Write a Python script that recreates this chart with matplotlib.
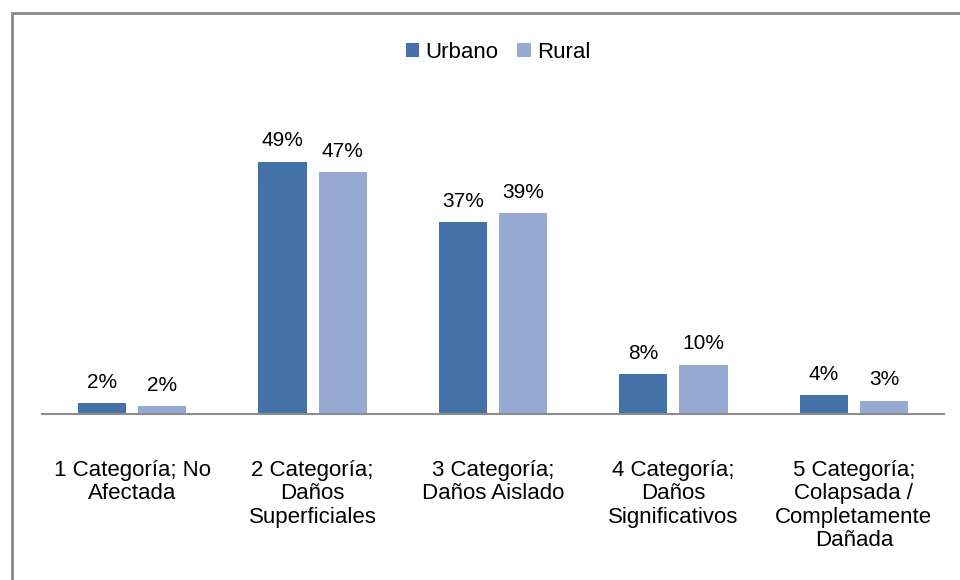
import matplotlib.pyplot as plt
import numpy as np
from matplotlib.patches import Rectangle

categorias = ["1 Categoría; No\nAfectada", "2 Categoría;\nDaños\nSuperficiales",
              "3 Categoría;\nDaños Aislado", "4 Categoría;\nDaños\nSignificativos",
              "5 Categoría;\nColapsada /\nCompletamente\nDañada"]
urbano = [2.1, 49.0, 37.3, 7.8, 3.6]
rural = [1.6, 47.0, 39.0, 9.6, 2.6]

plt.rcParams['font.family'] = ['Liberation Sans', 'DejaVu Sans']

c_urb = '#4472a8'
c_rur = '#95a9d1'

fig = plt.figure(figsize=(9.6, 5.8), dpi=100)
ax = fig.add_axes([0.04375, 0.2862, 0.9396, 0.533])

x = np.arange(len(categorias))
w = 0.267
off = 0.167
b1 = ax.bar(x - off, urbano, w, color=c_urb, label='Urbano')
b2 = ax.bar(x + off, rural, w, color=c_rur, label='Rural')

for bars, vals in ((b1, urbano), (b2, rural)):
    for b, v in zip(bars, vals):
        ax.annotate(f"{round(v):d}%", (b.get_x() + b.get_width() / 2, v),
                    xytext=(0, 8), textcoords='offset points',
                    ha='center', va='bottom', fontsize=15)

ax.set_xlim(-0.5, 4.5)
ax.set_ylim(0, 60)
ax.set_yticks([])
ax.set_xticks(x)
ax.set_xticklabels(categorias, fontsize=16, linespacing=1.15)
ax.tick_params(axis='x', length=0, pad=33)
for s in ('top', 'right', 'left'):
    ax.spines[s].set_visible(False)
ax.spines['bottom'].set_color('#8c8c8c')
ax.spines['bottom'].set_linewidth(1.5)

fig.legend(loc='center', bbox_to_anchor=(0.519, 0.91), ncol=2, frameon=False,
           fontsize=16, handlelength=0.6, handleheight=0.6, handletextpad=0.3,
           columnspacing=0.85)

fig.patches.append(Rectangle((12 / 960, -0.1), 1.2, 1 - 13 / 580 + 0.1,
                             transform=fig.transFigure, fill=False,
                             edgecolor='#888888', linewidth=2))

fig.savefig('out.png', dpi=100)
